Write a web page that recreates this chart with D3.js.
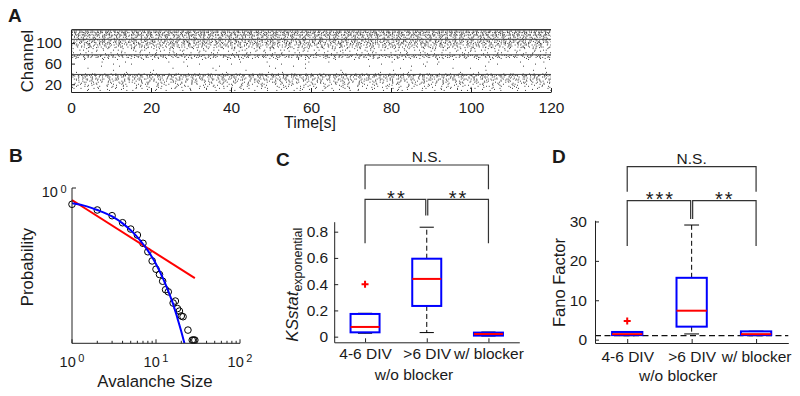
<!DOCTYPE html>
<html>
<head>
<meta charset="utf-8">
<script src="https://cdn.jsdelivr.net/npm/d3@7"></script>
<style>
  body { margin: 0; background: #fff; }
  svg text { font-family: "Liberation Sans", Arial, sans-serif; fill: #1a1a1a; }
</style>
</head>
<body>
<svg id="fig" width="800" height="396"></svg>
<script>
// ---- data ----

// A: raster, one row per active channel, firing rate in spikes/s
const rasterChannels = [126,125,123,121,120,118,116,115,113,111,109,107,106,104,103,101,99,98,96,94,92,91,89,86,84,81,79,77,76,74,72,70,68,63,59,55,51,47,43,40,39,37,36,34,32,30,28,26,24,22,20,18,16,14,12,10,8]
const rasterRates    = [3,5,1.5,1,2,0.8,1.2,2,0.8,1.2,0.8,4,1,1.2,0.6,1.5,0.6,1,1.2,0.6,1,0.4,0.5,0.5,0.3,0.4,0.2,4,1.5,0.8,1,0.3,0.2,0.12,0.1,0.1,0.08,0.08,0.1,0.6,4,1.5,0.8,1,0.6,1.2,0.8,0.6,0.8,0.5,0.6,0.4,0.5,0.3,0.4,0.2,0.3]
const timeTicks = [0, 20, 40, 60, 80, 100, 120]
const channelTicks = [20, 60, 100]

// B: avalanche size distribution
const avalancheSizes = [1,2,3,4,5,6,7,8,9,10,11,12,13,14,16,17,18,19,20,21,24,27,28,29]
const avalancheProb  = [0.617,0.521,0.440,0.357,0.296,0.248,0.194,0.151,0.115,0.090,0.077,0.063,0.049,0.046,0.033,0.035,0.028,0.026,0.0225,0.022,0.0148,0.011,0.011,0.011]
const powerFitSizes = [1, 29]
const powerFitProb  = [0.70, 0.069]
const expFitSizes = [1, 1.5, 2, 3, 4, 5, 6, 7, 8, 9, 10, 12, 14, 16, 18, 20, 21.8]
const expFitProb  = [0.636, 0.58, 0.52, 0.43, 0.35, 0.285, 0.233, 0.19, 0.156, 0.128, 0.105, 0.070, 0.047, 0.032, 0.021, 0.0142, 0.01]
const sizeTickLabels = [1, 10, 100]

// C: KS statistic, exponential fit
const groups = ["4-6 DIV", ">6 DIV", "w/ blocker"]
const ksQ1     = [0.033, 0.234, 0.008]
const ksMedian = [0.074, 0.440, 0.020]
const ksQ3     = [0.173, 0.594, 0.031]
const ksLow    = [0.026, 0.031, 0.005]
const ksHigh   = [0.178, 0.834, 0.035]
const ksOutliers = [[1, 0.40]]
const ksTicks = [0, 0.2, 0.4, 0.6, 0.8]
const ksSig = ["**", "**", "N.S."]

// D: Fano factor
const fanoQ1     = [1.15, 3.3, 1.15]
const fanoMedian = [1.4, 7.35, 1.4]
const fanoQ3     = [1.95, 15.7, 2.1]
const fanoLow    = [1.0, 1.45, 1.0]
const fanoHigh   = [2.0, 29.1, 2.15]
const fanoOutliers = [[1, 4.75]]
const fanoTicks = [0, 10, 20, 30]
const fanoRef = 1
const fanoSig = ["***", "**", "N.S."]

// ---- drawing ----
const svg = d3.select("#fig")
const axisCol = "#222"
const tickFont = 15.5
const labelFont = 16.8

function styleAxis(g) {
  g.selectAll("path, line").attr("stroke", axisCol).attr("stroke-width", 1)
  g.selectAll("text").style("font-size", tickFont + "px").attr("fill", "#1a1a1a")
}

function panelLetter(txt, x, y) {
  svg.append("text").attr("x", x).attr("y", y)
    .style("font-size", "19px").style("font-weight", "bold")
    .attr("fill", "#231f20").text(txt)
}

function rotLabel(txt, x, y, size) {
  return svg.append("text")
    .attr("transform", `translate(${x},${y}) rotate(-90)`)
    .attr("text-anchor", "middle")
    .style("font-size", size + "px")
    .text(txt)
}

// ===== A =====
const xA = d3.scaleLinear().domain([0, 120]).range([71, 551])
const yA = d3.scaleLinear().domain([5, 127]).range([92, 29])
const gA = svg.append("g")

// uneven gaps so the rows do not line up into stripes
const gapMix = [0.45, 1.7, 0.8, 1.25, 0.6, 1.9, 1.05, 0.35, 1.5, 0.95, 0.7, 1.3]
gA.selectAll(".row")
  .data(rasterChannels.map((c, i) => ({ ch: c, rate: rasterRates[i], i })))
  .enter().append("line")
    .attr("class", "row")
    .attr("x1", xA(0) + 1).attr("x2", xA(120))
    .attr("y1", d => yA(d.ch)).attr("y2", d => yA(d.ch))
    .attr("stroke", "#2a2a2a")
    .attr("stroke-width", 0.9)
    .attr("stroke-dasharray", d => {
      const period = (xA(1) - xA(0)) / d.rate
      if (period < 1.6) return null
      const shift = d.i % gapMix.length
      return gapMix.map((m, k) => {
        const mm = gapMix[(k + shift) % gapMix.length]
        return `1 ${Math.max(0.4, mm * period - 1).toFixed(2)}`
      }).join(" ")
    })
    .attr("stroke-dashoffset", d => (d.i * 37) % 53)

gA.append("g").attr("transform", `translate(0,${yA.range()[0]})`)
  .call(d3.axisBottom(xA).tickValues(timeTicks).tickSize(-4).tickSizeOuter(0).tickPadding(9.5))
  .call(styleAxis)
gA.append("g").attr("transform", `translate(${xA.range()[0]},0)`)
  .call(d3.axisLeft(yA).tickValues(channelTicks).tickSize(-4).tickSizeOuter(0).tickPadding(9))
  .call(styleAxis)

svg.append("text").attr("x", 310).attr("y", 128).attr("text-anchor", "middle")
  .style("font-size", "16px").text("Time[s]")
rotLabel("Channel", 32.5, 61, labelFont)
panelLetter("A", 8, 22)

// ===== B =====
const xB = d3.scaleLog().domain([1, 100]).range([72, 240])
const yB = d3.scaleLog().domain([0.01, 1]).range([343.3, 188])
const gB = svg.append("g")

gB.append("clipPath").attr("id", "clipB").append("rect")
  .attr("x", xB(1)).attr("y", yB(1) - 20)
  .attr("width", xB(100) - xB(1)).attr("height", yB(0.01) - yB(1) + 20)

gB.selectAll(".pt")
  .data(avalancheSizes.map((s, i) => [s, avalancheProb[i]]))
  .enter().append("circle")
    .attr("cx", d => xB(d[0])).attr("cy", d => yB(d[1]))
    .attr("r", 3.3).attr("fill", "none").attr("stroke", "#000").attr("stroke-width", 1)

const lineB = d3.line().x(d => xB(d[0])).y(d => yB(d[1]))
gB.append("path")
  .datum(powerFitSizes.map((s, i) => [s, powerFitProb[i]]))
  .attr("d", lineB).attr("fill", "none").attr("stroke", "#ff0000").attr("stroke-width", 2)
gB.append("path")
  .datum(expFitSizes.map((s, i) => [s, expFitProb[i]]))
  .attr("d", lineB.curve(d3.curveMonotoneX)).attr("clip-path", "url(#clipB)")
  .attr("fill", "none").attr("stroke", "#0000ff").attr("stroke-width", 2)

// axes of B
const yB0 = yB.range()[0]
gB.append("line").attr("x1", xB(1)).attr("x2", xB(100)).attr("y1", yB0).attr("y2", yB0)
  .attr("stroke", axisCol)
gB.append("line").attr("x1", xB(1)).attr("x2", xB(1)).attr("y1", yB0).attr("y2", yB(1))
  .attr("stroke", axisCol)
gB.selectAll(".tkB")
  .data(xB.ticks())
  .enter().append("line")
    .attr("x1", d => xB(d)).attr("x2", d => xB(d))
    .attr("y1", yB0).attr("y2", d => yB0 - (sizeTickLabels.includes(d) ? 4 : 2.5))
    .attr("stroke", axisCol)
gB.append("line").attr("x1", xB(1)).attr("x2", xB(1) + 4).attr("y1", yB(1)).attr("y2", yB(1))
  .attr("stroke", axisCol)

const xLabB = gB.selectAll(".xlB")
  .data(sizeTickLabels)
  .enter().append("text")
    .attr("x", d => xB(d)).attr("y", 366.7)
    .attr("text-anchor", "middle")
    .style("font-size", "14.5px")
xLabB.append("tspan").text("10")
xLabB.append("tspan").attr("dx", 2.5).attr("dy", -5).style("font-size", "11px")
  .text(d => Math.round(Math.log10(d)))

const yLabB = gB.append("text").attr("x", xB(1) - 5.5).attr("y", 197)
  .attr("text-anchor", "end").style("font-size", "14.5px")
yLabB.append("tspan").text("10")
yLabB.append("tspan").attr("dx", 2.5).attr("dy", -4).style("font-size", "11px").text("0")

svg.append("text").attr("x", 155).attr("y", 386.5).attr("text-anchor", "middle")
  .style("font-size", labelFont + "px").text("Avalanche Size")
rotLabel("Probability", 32.5, 267, labelFont)
panelLetter("B", 9, 162)

// ===== box plots =====
function drawBoxes(g, x, y, q1, med, q3, lo, hi, outliers) {
  const bw = (x(2) - x(1)) * 0.47
  const cw = (x(2) - x(1)) * 0.23
  const idx = groups.map((d, i) => i)
  const gx = i => x(i + 1)

  g.selectAll(".wu").data(idx).enter().append("line")
    .attr("x1", gx).attr("x2", gx).attr("y1", i => y(q3[i])).attr("y2", i => y(hi[i]))
    .attr("stroke", "#000").attr("stroke-dasharray", "5 3")
  g.selectAll(".wl").data(idx).enter().append("line")
    .attr("x1", gx).attr("x2", gx).attr("y1", i => y(q1[i])).attr("y2", i => y(lo[i]))
    .attr("stroke", "#000").attr("stroke-dasharray", "5 3")
  g.selectAll(".cu").data(idx).enter().append("line")
    .attr("x1", i => gx(i) - cw / 2).attr("x2", i => gx(i) + cw / 2)
    .attr("y1", i => y(hi[i])).attr("y2", i => y(hi[i]))
    .attr("stroke", "#000")
  g.selectAll(".cl").data(idx).enter().append("line")
    .attr("x1", i => gx(i) - cw / 2).attr("x2", i => gx(i) + cw / 2)
    .attr("y1", i => y(lo[i])).attr("y2", i => y(lo[i]))
    .attr("stroke", "#000")
  g.selectAll(".bx").data(idx).enter().append("rect")
    .attr("x", i => gx(i) - bw / 2).attr("width", bw)
    .attr("y", i => y(q3[i])).attr("height", i => y(q1[i]) - y(q3[i]))
    .attr("fill", "none").attr("stroke", "#0000ff").attr("stroke-width", 2)
  g.selectAll(".md").data(idx).enter().append("line")
    .attr("x1", i => gx(i) - bw / 2).attr("x2", i => gx(i) + bw / 2)
    .attr("y1", i => y(med[i])).attr("y2", i => y(med[i]))
    .attr("stroke", "#ff0000").attr("stroke-width", 2)
  g.selectAll(".ol").data(outliers).enter().append("path")
    .attr("d", d => `M${x(d[0]) - 3.5},${y(d[1])}h7M${x(d[0])},${y(d[1]) - 3.5}v7`)
    .attr("stroke", "#ff0000").attr("stroke-width", 2)
}

function drawBrackets(g, x, labels, yTop, yTopEnd, yLow, yLowOuter, yLowInner) {
  const br = d3.path()
  br.moveTo(x(1), yLowOuter); br.lineTo(x(1), yLow); br.lineTo(x(2) - 1, yLow); br.lineTo(x(2) - 1, yLowInner)
  br.moveTo(x(2) + 1, yLowInner); br.lineTo(x(2) + 1, yLow); br.lineTo(x(3), yLow); br.lineTo(x(3), yLowOuter)
  br.moveTo(x(1), yTopEnd); br.lineTo(x(1), yTop); br.lineTo(x(3), yTop); br.lineTo(x(3), yTopEnd)
  g.append("path").attr("d", br.toString()).attr("fill", "none")
    .attr("stroke", "#333").attr("stroke-width", 1.2)
  const stars = [[(x(1) + x(2)) / 2, labels[0]], [(x(2) + x(3)) / 2, labels[1]]]
  g.selectAll(".st").data(stars).enter().append("text")
    .attr("x", d => d[0] + 1).attr("y", yLow + 5.5)
    .attr("text-anchor", "middle")
    .style("font-size", "20px").style("letter-spacing", "2px")
    .attr("fill", "#555").text(d => d[1])
  g.append("text").attr("x", (x(1) + x(3)) / 2).attr("y", yTop - 3)
    .attr("text-anchor", "middle").style("font-size", tickFont + "px").text(labels[2])
}

// ===== C =====
const xC = d3.scaleLinear().domain([0.5, 3.5]).range([334.2, 519.3])
const yC = d3.scaleLinear().domain([-0.043, 0.876]).range([342.3, 221.7])
const gC = svg.append("g")
drawBoxes(gC, xC, yC, ksQ1, ksMedian, ksQ3, ksLow, ksHigh, ksOutliers)
gC.append("g").attr("transform", `translate(0,${yC.range()[0]})`)
  .call(d3.axisBottom(xC).tickValues([1, 2, 3]).tickFormat(d => groups[d - 1])
    .tickSize(-4).tickSizeOuter(0).tickPadding(6))
  .call(styleAxis)
gC.append("g").attr("transform", `translate(${xC.range()[0]},0)`)
  .call(d3.axisLeft(yC).tickValues(ksTicks).tickFormat(d => d === 0 ? "0" : d3.format(".1f")(d))
    .tickSize(-4).tickSizeOuter(0).tickPadding(6))
  .call(styleAxis)
drawBrackets(gC, xC, ksSig, 165, 189.3, 199.3, 243.3, 215.5)

const ksLab = svg.append("text")
  .attr("transform", "translate(298,341.7) rotate(-90)")
  .style("font-size", "17px")
ksLab.append("tspan").style("font-style", "italic").text("KSstat")
ksLab.append("tspan").attr("dy", 4).style("font-size", "12.5px").text("exponential")
svg.append("text").attr("x", 414).attr("y", 380).attr("text-anchor", "middle")
  .style("font-size", tickFont + "px").text("w/o blocker")
panelLetter("C", 276, 166)

// ===== D =====
const xD = d3.scaleLinear().domain([0.5, 3.5]).range([595, 788.3])
const yD = d3.scaleLinear().domain([-0.85, 30.3]).range([343, 220.3])
const gD = svg.append("g")
gD.append("line").attr("x1", xD(0.5)).attr("x2", xD(3.5))
  .attr("y1", yD(fanoRef)).attr("y2", yD(fanoRef))
  .attr("stroke", "#111").attr("stroke-width", 1.3).attr("stroke-dasharray", "6 3.5")
drawBoxes(gD, xD, yD, fanoQ1, fanoMedian, fanoQ3, fanoLow, fanoHigh, fanoOutliers)
gD.append("g").attr("transform", `translate(0,${yD.range()[0]})`)
  .call(d3.axisBottom(xD).tickValues([1, 2, 3]).tickFormat(d => groups[d - 1])
    .tickSize(-4).tickSizeOuter(0).tickPadding(8))
  .call(styleAxis)
gD.append("g").attr("transform", `translate(${xD.range()[0]},0)`)
  .call(d3.axisLeft(yD).tickValues(fanoTicks).tickSize(-4).tickSizeOuter(0).tickPadding(8))
  .call(styleAxis)
drawBrackets(gD, xD, fanoSig, 166.7, 191.7, 200.7, 246, 219)

rotLabel("Fano Factor", 565, 282.5, 16.5)
svg.append("text").attr("x", 678.3).attr("y", 381).attr("text-anchor", "middle")
  .style("font-size", tickFont + "px").text("w/o blocker")
panelLetter("D", 552, 163)
</script>
</body>
</html>
